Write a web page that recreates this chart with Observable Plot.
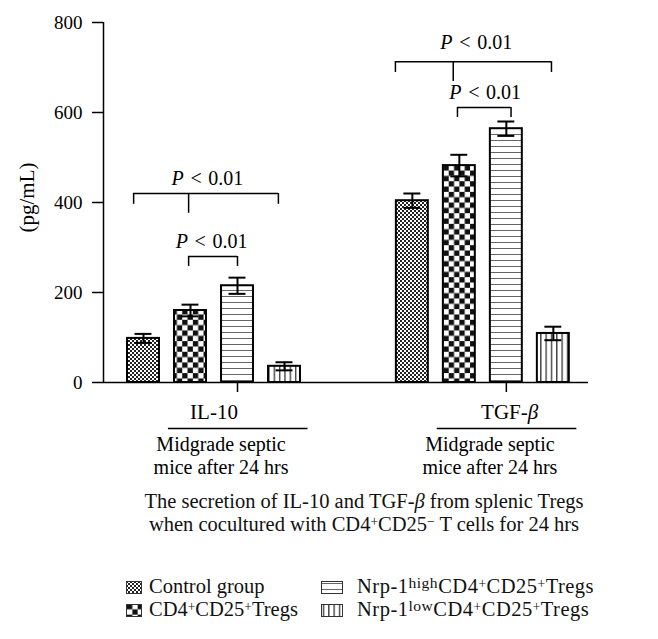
<!DOCTYPE html>
<html><head><meta charset="utf-8">
<script src="https://cdn.jsdelivr.net/npm/d3@7"></script>
<script src="https://cdn.jsdelivr.net/npm/@observablehq/plot@0.6"></script>
<style>
body{margin:0;background:#fff;font-family:"Liberation Serif","Times New Roman",serif;color:#111;}
#wrap{position:relative;width:658px;height:639px;overflow:hidden;}
#chart{position:absolute;left:0;top:0;}
#caption{position:absolute;left:35px;width:658px;top:490px;text-align:center;font-size:20.5px;line-height:23px;}
.sup{font-size:0.66em;vertical-align:0.36em;line-height:0;}
.supw{font-size:0.76em;vertical-align:0.32em;line-height:0;}
.leg{position:absolute;font-size:20.5px;line-height:21px;white-space:nowrap;}
.sw{position:absolute;}
</style></head><body>
<div id="wrap"><div id="chart"></div><div id="caption"></div><div id="legend"></div></div>
<script>
// ---- data ----
const groups = ["IL-10", "TGF-β"];
const groupSubLine1 = "Midgrade septic";
const groupSubLine2 = "mice after 24 hrs";
const seriesNames = ["Control group", "CD4+CD25+Tregs", "Nrp-1highCD4+CD25+Tregs", "Nrp-1lowCD4+CD25+Tregs"];
const seriesHtml = [
  "Control group",
  "CD4<span class='sup'>+</span>CD25<span class='sup'>+</span>Tregs",
  "Nrp-1<span class='supw'>high</span>CD4<span class='sup'>+</span>CD25<span class='sup'>+</span>Tregs",
  "Nrp-1<span class='supw'>low</span>CD4<span class='sup'>+</span>CD25<span class='sup'>+</span>Tregs"
];
const il10Means = [98, 160, 215, 36];
const il10Errors = [10, 13, 18, 9];
const tgfMeans = [404, 482, 564, 109];
const tgfErrors = [16, 24, 16, 15];
const yTicks = [0, 200, 400, 600, 800];
const yLabel = "(pg/mL)";
const pLabel = "P < 0.01";
// significance brackets (positions relative to group's first bar, values in pg/mL)
const bracketGroup = [0, 0, 1, 1];
const bracketFrom = [-0.21, 0.96, -0.36, 0.96];
const bracketTo = [2.87, 2.0, 2.96, 2.1];
const bracketStem = [0.96, null, 0.87, null];
const bracketY = [420, 280, 713, 611];
const bracketEnd = [396, 258, 689, 589];
const bracketStemEnd = [376, null, 669, null];
const bracketTextX = [1.36, 1.45, 1.36, 1.55];
const bracketTextY = [438, 300, 742, 629];
const captionLines = [
  "The secretion of IL-10 and TGF-<i>β</i> from splenic Tregs",
  "when cocultured with CD4<span class='sup'>+</span>CD25<span class='sup'>−</span> T cells for 24 hrs"
];

// ---- layout ----
const X_MIN = -0.851, X_MAX = 9.468;
const groupOffsets = [0, 5.72];
const groupLabelPos = [1.5, 2.07];
const subLabelPos = [1.65, 1.65];
const halfBar = 0.34, halfCap = 0.18;
const means = [il10Means, tgfMeans];
const errs = [il10Errors, tgfErrors];
const bars = [];
groups.forEach((g, gi) => seriesNames.forEach((s, si) => bars.push({
  group: g, s: si, pos: groupOffsets[gi] + si, mean: means[gi][si], err: errs[gi][si]
})));
const brackets = bracketGroup.map((g, i) => ({
  x1: groupOffsets[g] + bracketFrom[i], x2: groupOffsets[g] + bracketTo[i],
  stem: bracketStem[i] == null ? null : groupOffsets[g] + bracketStem[i],
  y: bracketY[i], yEnd: bracketEnd[i], yStem: bracketStemEnd[i],
  tx: groupOffsets[g] + bracketTextX[i], ty: bracketTextY[i]
}));
const tickPos = groupOffsets.map(o => o + 2);
const F = "Liberation Serif";

const marks = [];
seriesNames.forEach((name, si) => {
  marks.push(Plot.rect(bars.filter(b => b.s === si), {
    x1: d => d.pos - halfBar, x2: d => d.pos + halfBar, y1: 0, y2: "mean",
    fill: `url(#pat${si})`, stroke: "#000", strokeWidth: 2
  }));
});
marks.push(
  Plot.ruleX(bars, {x: "pos", y1: d => d.mean - d.err, y2: d => d.mean + d.err, stroke: "#000", strokeWidth: 2}),
  Plot.ruleY(bars, {y: d => d.mean + d.err, x1: d => d.pos - halfCap, x2: d => d.pos + halfCap, stroke: "#000", strokeWidth: 2}),
  Plot.ruleY(bars, {y: d => d.mean - d.err, x1: d => d.pos - halfCap, x2: d => d.pos + halfCap, stroke: "#000", strokeWidth: 2}),
  // brackets
  Plot.ruleY(brackets, {y: "y", x1: "x1", x2: "x2", stroke: "#000", strokeWidth: 1.5}),
  Plot.ruleX(brackets, {x: "x1", y1: "yEnd", y2: "y", stroke: "#000", strokeWidth: 1.5}),
  Plot.ruleX(brackets, {x: "x2", y1: "yEnd", y2: "y", stroke: "#000", strokeWidth: 1.5}),
  Plot.ruleX(brackets.filter(b => b.stem != null), {x: "stem", y1: "yStem", y2: "y", stroke: "#000", strokeWidth: 1.5}),
  Plot.text(brackets, {x: "tx", y: "ty", text: () => pLabel, lineAnchor: "bottom", fontSize: 20, fontFamily: F, fill: "#000"}),
  // axes
  Plot.axisY({ticks: yTicks, tickSize: 11, tickPadding: 10, fontSize: 19, fontFamily: F, label: null, strokeWidth: 1.5}),
  Plot.ruleX([X_MIN], {y1: 0, y2: 800, stroke: "#000", strokeWidth: 1.5}),
  Plot.ruleY([0], {stroke: "#000", strokeWidth: 1.5}),
  Plot.axisX({ticks: tickPos, tickSize: 10, tickFormat: () => "", label: null, strokeWidth: 1.5}),
  Plot.text([yLabel], {frameAnchor: "left", textAnchor: "middle", dx: -76, dy: -5, rotate: -90, fontSize: 21, fontFamily: F, fill: "#000"}),
  // group labels
  Plot.text(groups, {x: (d, i) => groupOffsets[i] + groupLabelPos[i], y: 0, dy: 30, text: d => d, fontSize: 21, fontFamily: F, fill: "#000"}),
  Plot.ruleY(groups, {y: 0, dy: 46, x1: (d, i) => groupOffsets[i] + 0.53, x2: (d, i) => groupOffsets[i] + 3.5, stroke: "#000", strokeWidth: 1.5}),
  Plot.text(groups, {x: (d, i) => groupOffsets[i] + subLabelPos[i], y: 0, dy: 62, text: () => groupSubLine1, fontSize: 20, fontFamily: F, fill: "#000"}),
  Plot.text(groups, {x: (d, i) => groupOffsets[i] + subLabelPos[i], y: 0, dy: 85, text: () => groupSubLine2, fontSize: 20, fontFamily: F, fill: "#000"})
);

const svg = Plot.plot({
  width: 658, height: 482,
  marginLeft: 103, marginRight: 70, marginTop: 22, marginBottom: 100,
  x: {domain: [X_MIN, X_MAX], axis: null},
  y: {domain: [0, 800], axis: null},
  style: {background: "#fff", color: "#000", fontFamily: F},
  marks
});

const defsHtml = `
<pattern id="pat0" patternUnits="userSpaceOnUse" width="4" height="4">
  <rect width="4" height="4" fill="#fff"/><rect width="2" height="2" fill="#222"/><rect x="2" y="2" width="2" height="2" fill="#222"/>
</pattern>
<pattern id="pat1" patternUnits="userSpaceOnUse" width="10.66" height="10.66" x="1" y="0">
  <rect width="10.66" height="10.66" fill="#fff"/><rect width="5.33" height="5.33" fill="#111"/><rect x="5.33" y="5.33" width="5.33" height="5.33" fill="#111"/>
</pattern>
<pattern id="pat2" patternUnits="userSpaceOnUse" width="8" height="6">
  <rect width="8" height="6" fill="#fff"/><line x1="0" x2="8" y1="2.5" y2="2.5" stroke="#666" stroke-width="1"/>
</pattern>
<pattern id="pat3" patternUnits="userSpaceOnUse" width="5.33" height="8">
  <rect width="5.33" height="8" fill="#fff"/><line x1="2.5" x2="2.5" y1="0" y2="8" stroke="#222" stroke-width="1.2"/>
</pattern>`;
const defs = document.createElementNS("http://www.w3.org/2000/svg", "defs");
defs.innerHTML = defsHtml;
svg.insertBefore(defs, svg.firstChild);

// italic P and beta
svg.querySelectorAll("text").forEach(t => {
  if (t.textContent === pLabel) {
    t.innerHTML = `<tspan font-style="italic">P</tspan>\u2004&lt;\u20040.01`;
  } else if (t.textContent === "TGF-β") {
    t.innerHTML = `TGF-<tspan font-style="italic">β</tspan>`;
  }
});
document.getElementById("chart").appendChild(svg);

document.getElementById("caption").innerHTML = captionLines.join("<br>");

// legend
const swatchX = [126, 126, 321, 321];
const swatchW = [16, 16, 22, 22];
const rowTop = [576, 599, 576, 599];
const textLeft = [149, 149, 357, 357];
const textSpacing = [0, 0, 0.5, 0.5];
const leg = document.getElementById("legend");
seriesNames.forEach((n, i) => {
  const sw = document.createElement("div");
  sw.className = "sw";
  sw.style.left = swatchX[i] + "px"; sw.style.top = (rowTop[i] + 4) + "px";
  sw.innerHTML = `<svg width="${swatchW[i]}" height="13"><rect x="0.5" y="0.5" width="${swatchW[i] - 1}" height="12" fill="url(#pat${i})" stroke="#333" stroke-width="1"/></svg>`;
  leg.appendChild(sw);
  const t = document.createElement("div");
  t.className = "leg";
  t.style.left = textLeft[i] + "px"; t.style.top = rowTop[i] + "px";
  t.style.letterSpacing = textSpacing[i] + "px";
  t.innerHTML = seriesHtml[i];
  leg.appendChild(t);
});
</script>
</body></html>
